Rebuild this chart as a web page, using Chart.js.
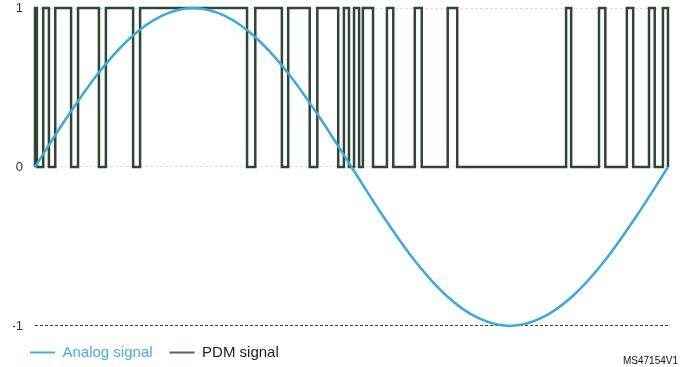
<!DOCTYPE html>
<html lang="en">

<head>
  <meta charset="UTF-8" />
  <title>PDM signal</title>
  <script src="https://cdn.jsdelivr.net/npm/chart.js"></script>
  <style>
    body {
      margin: 0;
      overflow: hidden;
      background: #fff;
    }
  </style>
</head>

<body>
  <canvas id="pdmChart" width="694" height="370"></canvas>

  <script>
    // analog signal read at every 5 time units (0..100)
    const analogTimes = [0, 5, 10, 15, 20, 25, 30, 35, 40, 45, 50, 55, 60, 65, 70, 75, 80, 85, 90, 95, 100];
    const analogValues = [0, 0.31, 0.59, 0.81, 0.95, 1, 0.95, 0.81, 0.59, 0.31, 0, -0.31, -0.59, -0.81, -0.95, -1, -0.95, -0.81, -0.59, -0.31, 0];

    // PDM edges: level holds from each time until the next one
    const pdmTimes = [0, 0, 0.3, 1.3, 2.2, 3.2, 5.7, 6.8, 10.1, 11.2, 15.5, 16.6, 33.5, 34.8, 39.0, 40.0,
      43.4, 44.6, 47.9, 48.8, 49.6, 50.4, 51.2, 51.8, 53.4, 55.6, 56.6, 60.0, 61.1, 65.2, 66.7,
      83.9, 84.7, 89.1, 90.1, 93.5, 94.5, 97.0, 97.9, 99.2, 100];
    const pdmLevels = [0, 1, 0, 1, 0, 1, 0, 1, 0, 1, 0, 1, 0, 1, 0, 1,
      0, 1, 0, 1, 0, 1, 0, 1, 0, 1, 0, 1, 0, 1, 0,
      1, 0, 1, 0, 1, 0, 1, 0, 1, 0];

    const yTicks = [-1, 0, 1];
    const seriesNames = ['Analog signal', 'PDM signal'];
    const figureCode = 'MS47154V1';

    const blue = '#3ba9d9';
    const green = '#2f4636';

    const codeLabel = {
      id: 'codeLabel',
      afterDraw(chart) {
        const c = chart.ctx;
        c.save();
        c.font = '10px Arial, "Liberation Sans", sans-serif';
        c.fillStyle = '#111';
        c.textAlign = 'right';
        c.textBaseline = 'middle';
        c.fillText(figureCode, 678, 361);
        c.restore();
      }
    };

    const ctx = document.getElementById('pdmChart').getContext('2d');

    new Chart(ctx, {
      type: 'line',
      data: {
        datasets: [{
          label: seriesNames[0],
          data: analogTimes.map((t, i) => ({ x: t, y: analogValues[i] })),
          borderColor: blue,
          borderWidth: 2.5,
          pointRadius: 0,
          cubicInterpolationMode: 'monotone',
          clip: false
        }, {
          label: seriesNames[1],
          data: pdmTimes.map((t, i) => ({ x: t, y: pdmLevels[i] })),
          borderColor: green,
          borderWidth: 2.5,
          pointRadius: 0,
          stepped: true,
          clip: false
        }]
      },
      options: {
        responsive: false,
        animation: false,
        layout: { autoPadding: false, padding: { left: 13, right: 26, top: 8, bottom: 0 } },
        plugins: {
          tooltip: { enabled: false },
          legend: {
            position: 'bottom',
            align: 'start',
            labels: {
              boxWidth: 25,
              boxHeight: 2,
              padding: 17,
              font: { size: 15, family: 'Arial, "Liberation Sans", sans-serif' },
              generateLabels: () => [
                { text: seriesNames[0], fillStyle: '#45b0e0', lineWidth: 0, fontColor: '#45b0e0', datasetIndex: 0 },
                { text: seriesNames[1], fillStyle: '#4a6b4f', lineWidth: 0, fontColor: '#222', datasetIndex: 1 }
              ]
            }
          }
        },
        scales: {
          x: {
            type: 'linear',
            min: 0,
            max: 100,
            display: false
          },
          y: {
            min: -1.013,
            max: 1,
            afterBuildTicks: axis => { axis.ticks = yTicks.map(v => ({ value: v })); },
            afterFit: axis => {
              axis.width = 22;
              axis.paddingTop = 0;
              axis.paddingBottom = 0;
            },
            ticks: {
              padding: 12,
              color: '#333',
              font: { size: 13, family: 'Arial, "Liberation Sans", sans-serif' },
              callback: v => String(v)
            },
            grid: {
              drawTicks: false,
              color: c => c.tick && c.tick.value === -1 ? '#444' : '#dcdcdc'
            },
            border: { display: false, dash: [3, 2] }
          }
        }
      },
      plugins: [codeLabel]
    });
  </script>
</body>

</html>
